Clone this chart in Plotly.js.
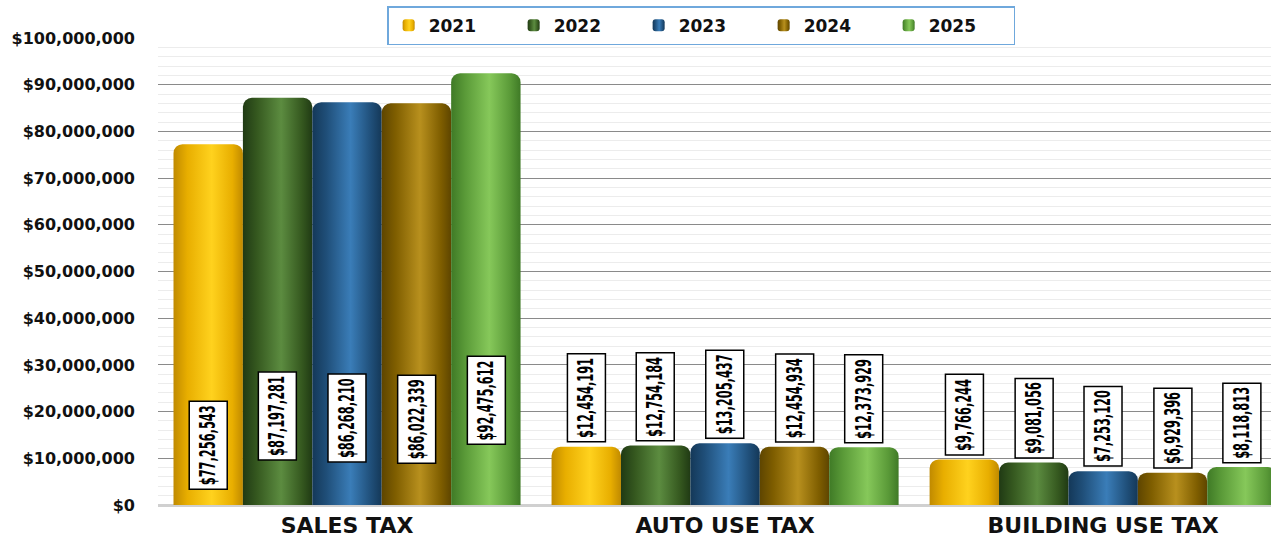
<!DOCTYPE html>
<html>
<head>
<meta charset="utf-8">
<script src="https://cdn.plot.ly/plotly-3.0.1.min.js"></script>
<style>
html,body{margin:0;padding:0;background:#fff;}
#chart{width:1271px;height:542px;}
</style>
</head>
<body>
<div id="chart"></div>
<script>
// ---- data ----
const categories = ["SALES TAX", "AUTO USE TAX", "BUILDING USE TAX"];
const years = ["2021", "2022", "2023", "2024", "2025"];
const v2021 = [77256543, 12454191, 9766244];
const v2022 = [87197281, 12754184, 9081056];
const v2023 = [86268210, 13205437, 7253120];
const v2024 = [86022339, 12454934, 6929396];
const v2025 = [92475612, 12373929, 8118813];
const seriesValues = [v2021, v2022, v2023, v2024, v2025];
const yTickVals = [0, 10000000, 20000000, 30000000, 40000000, 50000000, 60000000, 70000000, 80000000, 90000000, 100000000];

// ---- style ----
const baseColors = ["#FFC000", "#3E6B26", "#27608F", "#9A7200", "#6AAE45"];
const gradStops = [
  ["#C08A00", "#FFD21E", "#E8AE00"],
  ["#203A14", "#5C8C40", "#35581F"],
  ["#143858", "#3A7DB8", "#1F4E78"],
  ["#5E4500", "#B8901E", "#7F5E00"],
  ["#3F7A26", "#86C85A", "#5A9A38"]
];
const bargap = 0.082;
const barW = (1 - bargap) / years.length;
const xIdx = categories.map((_, i) => i);
const wideBold = "'DejaVu Sans', Verdana, sans-serif";

const fmt = v => "$" + v.toLocaleString("en-US");

const traces = years.map((yr, k) => ({
  type: "bar",
  name: yr,
  x: xIdx,
  y: seriesValues[k],
  marker: {color: baseColors[k], line: {width: 0}},
  hoverinfo: "skip"
}));

const annotations = [];
years.forEach((yr, k) => {
  seriesValues[k].forEach((v, i) => {
    const big = v > 50000000;
    annotations.push({
      x: i + (k - (years.length - 1) / 2) * barW,
      y: big ? 0.64 * v - 36700000 : v,
      xref: "x", yref: "y",
      yanchor: big ? "middle" : "bottom",
      yshift: big ? 0 : 4,
      text: fmt(v),
      textangle: -90,
      showarrow: false,
      font: {family: "'DejaVu Sans Condensed', 'DejaVu Sans', sans-serif", size: 12, color: "#000", weight: "bold"},
      bgcolor: "#fff",
      bordercolor: "#000",
      borderwidth: 1.5,
      borderpad: 3
    });
  });
});

const layout = {
  width: 1271, height: 542,
  margin: {l: 158, r: 0, t: 38, b: 37},
  paper_bgcolor: "#fff",
  plot_bgcolor: "#fff",
  barmode: "group",
  bargap: bargap,
  bargroupgap: 0,
  barcornerradius: 9,
  showlegend: true,
  legend: {
    orientation: "h",
    x: 0.488, xanchor: "center",
    y: 1.068, yanchor: "top",
    bordercolor: "#6FA8DC", borderwidth: 1.5,
    bgcolor: "#fff",
    font: {family: wideBold, size: 17, color: "#111", weight: "bold"},
    entrywidth: 80,
    itemwidth: 30,
    traceorder: "normal"
  },
  xaxis: {
    type: "linear",
    range: [-0.5, 2.444],
    tickvals: xIdx,
    ticktext: categories,
    showgrid: false,
    zeroline: false,
    showline: false,
    ticks: "",
    ticklabelstandoff: 5,
    tickfont: {family: wideBold, size: 22, color: "#111", weight: "bold"},
    fixedrange: true
  },
  yaxis: {
    range: [0, 100000000],
    tickvals: yTickVals,
    tickformat: "$,.0f",
    showgrid: true,
    gridcolor: "#8a8a8a",
    gridwidth: 1,
    zeroline: true,
    zerolinecolor: "#d0d0d0",
    zerolinewidth: 3,
    minor: {dtick: 2000000, showgrid: true, gridcolor: "#ececec", gridwidth: 1},
    ticks: "",
    ticklabelstandoff: 22,
    tickfont: {family: wideBold, size: 16, color: "#111", weight: "bold"},
    fixedrange: true
  },
  annotations: annotations
};

Plotly.newPlot("chart", traces, layout, {staticPlot: true, displayModeBar: false}).then(gd => {
  const svg = gd.querySelector(".main-svg");
  const ns = "http://www.w3.org/2000/svg";
  let defs = svg.querySelector("defs");
  if (!defs) { defs = document.createElementNS(ns, "defs"); svg.insertBefore(defs, svg.firstChild); }
  gradStops.forEach((stops, k) => {
    const g = document.createElementNS(ns, "linearGradient");
    g.setAttribute("id", "cyl" + k);
    g.setAttribute("x1", "0"); g.setAttribute("x2", "1"); g.setAttribute("y1", "0"); g.setAttribute("y2", "0");
    [[0, stops[0]], [0.2, stops[2]], [0.55, stops[1]], [0.85, stops[2]], [1, stops[0]]].forEach(([o, c]) => {
      const s = document.createElementNS(ns, "stop");
      s.setAttribute("offset", o); s.setAttribute("stop-color", c);
      g.appendChild(s);
    });
    defs.appendChild(g);
  });
  gd.querySelectorAll(".barlayer .trace.bars").forEach((tr, k) => {
    tr.querySelectorAll(".point path").forEach(p => { p.style.fill = "url(#cyl" + k + ")"; });
  });
  gd.querySelectorAll(".legend .traces").forEach((tr, k) => {
    tr.querySelectorAll(".legendpoints path").forEach(p => { p.style.fill = "url(#cyl" + k + ")"; });
  });
  // tall, narrow lettering of the value boxes as in the reference
  const root = gd.getBoundingClientRect();
  const anns = Array.from(gd.querySelectorAll(".annotation"));
  const rects = anns.map(a => a.getBoundingClientRect());
  const maxH = Math.max(...rects.map(r => r.height));
  const sy = 88 / maxH;
  anns.forEach((a, j) => {
    const r = rects[j];
    const isBig = annotations[j] && annotations[j].yanchor === "middle";
    const cx = r.left - root.left + r.width / 2;
    const cy = isBig ? (r.top - root.top + r.height / 2) : (r.bottom - root.top);
    const sx = 38 / r.width;
    a.setAttribute("transform", `translate(${cx},${cy}) scale(${sx},${sy}) translate(${-cx},${-cy})`);
    a.querySelectorAll("rect").forEach(rc => rc.setAttribute("vector-effect", "non-scaling-stroke"));
  });
});
</script>
</body>
</html>
